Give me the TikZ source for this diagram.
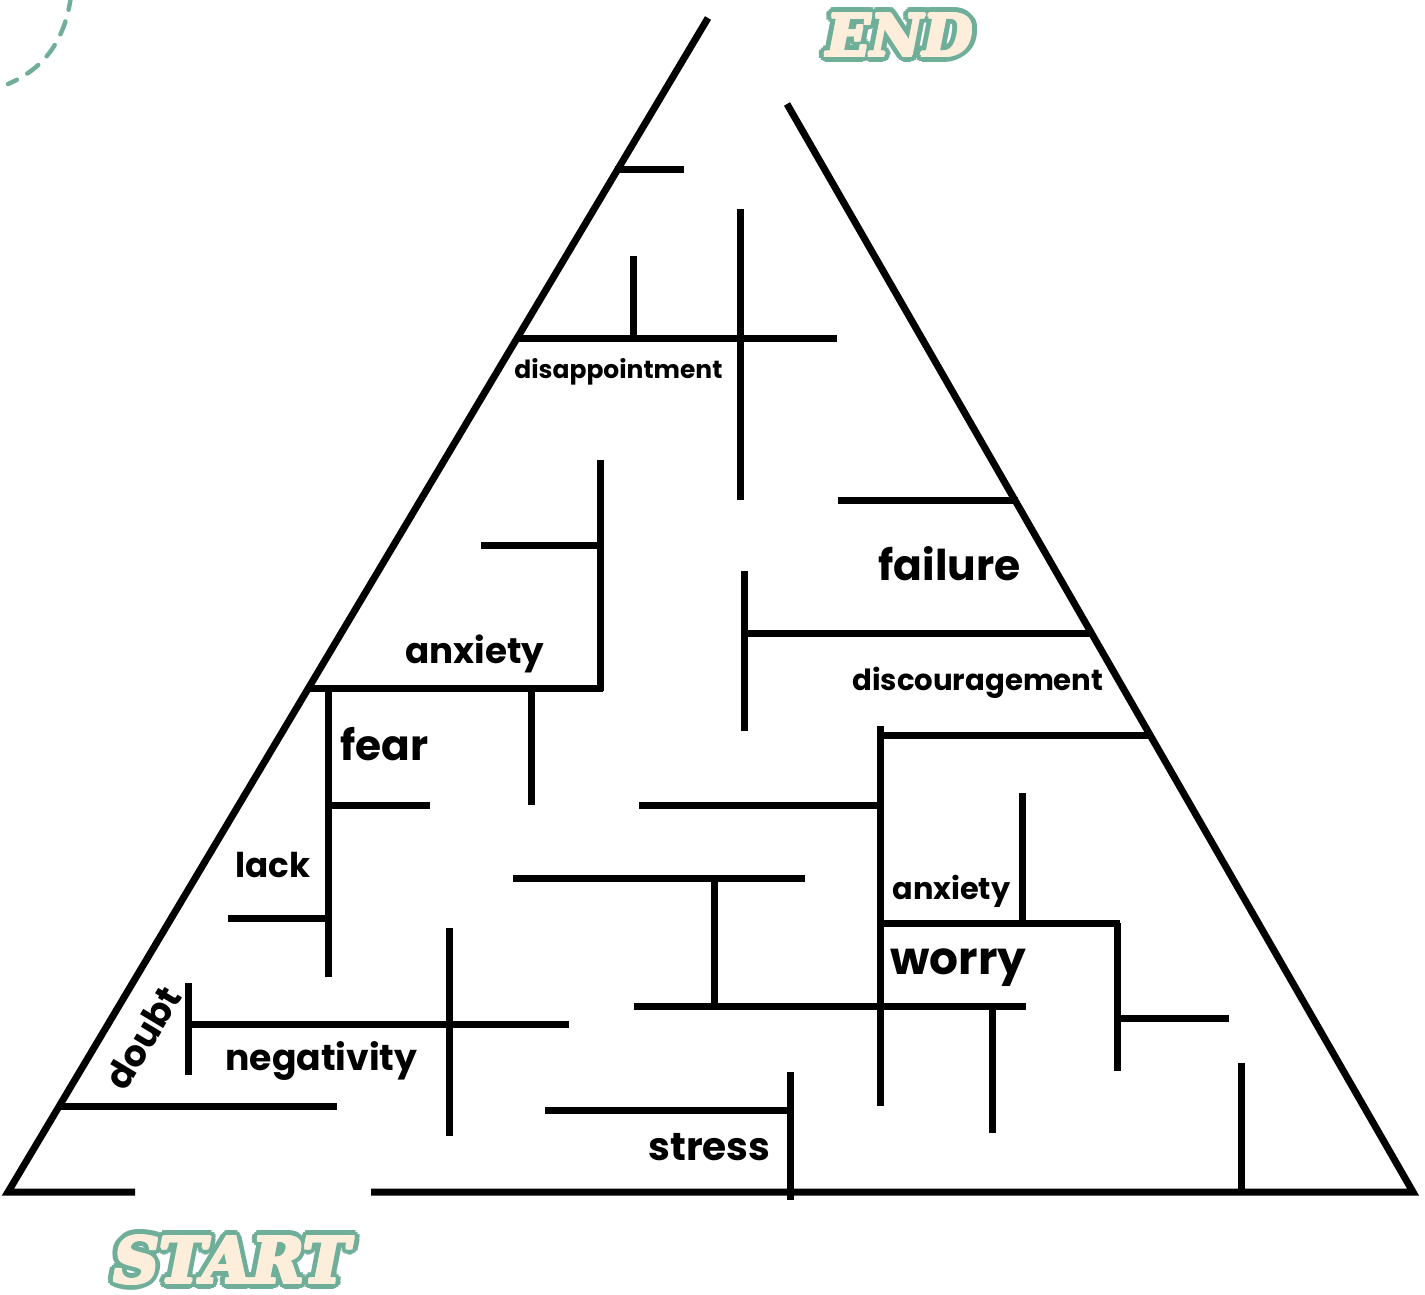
\documentclass[tikz,border=0pt]{standalone}
\usepackage{fontspec}
\usepackage{graphicx}
\usetikzlibrary{calc}
\newfontfamily\lblfont{Poppins}
\newfontfamily\titlefont{DejaVu Serif}
\newlength\pxu \setlength\pxu{0.5pt}
\newcommand\fitw[2]{\resizebox{#1\pxu}{!}{#2}}
\definecolor{mazegreen}{HTML}{6FAE98}
\definecolor{mazecream}{HTML}{FDEEDC}
\begin{document}
\begin{tikzpicture}[x=0.5pt,y=-0.5pt,
  wall/.style={line width=3.5pt},
  lbl/.style={anchor=base west,inner sep=0pt,font=\lblfont\bfseries},
  ttl/.style={inner sep=0pt,font=\titlefont\bfseries\itshape}]
\useasboundingbox (0,0) rectangle (1425,1295);
% dashed curve
\draw[mazegreen,line width=2.2pt,line cap=round,dash pattern=on 7pt off 6pt]
  (71,-4) .. controls (65,40) and (45,68) .. (8,84);
% triangle
\draw[wall] (135,1192) -- (8,1192) -- (708,18);
\draw[wall] (787,104) -- (1413,1192) -- (371,1192);
% walls
\draw[wall] (615,170) -- (684,170);
\draw[wall] (633,256) -- (633,338);
\draw[wall] (515,338) -- (837,338);
\draw[wall] (740,209) -- (740,500);
\draw[wall] (838,500) -- (1018,500);
\draw[wall] (600,460) -- (600,691);
\draw[wall] (481,545) -- (600,545);
\draw[wall] (310,688) -- (603,688);
\draw[wall] (531,688) -- (531,805);
\draw[wall] (328,688) -- (328,977);
\draw[wall] (328,805) -- (430,805);
\draw[wall] (228,918) -- (328,918);
\draw[wall] (744,571) -- (744,731);
\draw[wall] (744,633) -- (1090,633);
\draw[wall] (880,726) -- (880,1106);
\draw[wall] (880,735) -- (1149,735);
\draw[wall] (639,805) -- (880,805);
\draw[wall] (1022,793) -- (1022,923);
\draw[wall] (880,923) -- (1120,923);
\draw[wall] (1117,923) -- (1117,1071);
\draw[wall] (1117,1018) -- (1229,1018);
\draw[wall] (634,1006) -- (1026,1006);
\draw[wall] (992,1006) -- (992,1133);
\draw[wall] (513,878) -- (805,878);
\draw[wall] (714,878) -- (714,1006);
\draw[wall] (449,928) -- (449,1136);
\draw[wall] (188,1024) -- (569,1024);
\draw[wall] (188,983) -- (188,1075);
\draw[wall] (60,1106) -- (337,1106);
\draw[wall] (545,1110) -- (790,1110);
\draw[wall] (790,1072) -- (790,1200);
\draw[wall] (1241,1063) -- (1241,1192);
% labels
\node[lbl] (disap) at (514,378) {\fitw{208}{disappointment}};
\node[lbl] (anx1) at (405,663) {\fitw{139}{anxiety}};
\node[lbl] (fail) at (878,580) {\fitw{142}{failure}};
\node[lbl] (disc) at (852,690) {\fitw{251}{discouragement}};
\node[lbl] (fear) at (340,760) {\fitw{88}{fear}};
\node[lbl] (lack) at (235,877) {\fitw{75}{lack}};
\node[lbl] (anx2) at (892,899) {\fitw{118}{anxiety}};
\node[lbl] (worry) at (890,974) {\fitw{136}{worry}};
\node[lbl] (neg) at (225,1070) {\fitw{192}{negativity}};
\node[lbl] (stress) at (648,1160) {\fitw{122}{stress}};
\node[inner sep=0pt,font=\lblfont\bfseries,rotate=59] (doubt) at (143,1038) {\fitw{112}{doubt}};
% titles: green outline made of shifted copies, cream letters on top
\foreach \a in {0,22.5,...,337.5}{
  \node[ttl,text=mazegreen] at ($(900,35)+(\a:6.5)$) {\fitw{146}{END}};
  \node[ttl,text=mazegreen] at ($(232,1260)+(\a:6.5)$) {\fitw{236}{START}};
}
\foreach \a in {0,45,...,315}{
  \node[ttl,text=mazecream] at ($(900,35)+(\a:1.6)$) {\fitw{146}{END}};
  \node[ttl,text=mazecream] at ($(232,1260)+(\a:1.6)$) {\fitw{236}{START}};
}
\node[ttl,text=mazecream] (endt) at (900,35) {\fitw{146}{END}};
\node[ttl,text=mazecream] (startt) at (232,1260) {\fitw{236}{START}};
\end{tikzpicture}
\end{document}
